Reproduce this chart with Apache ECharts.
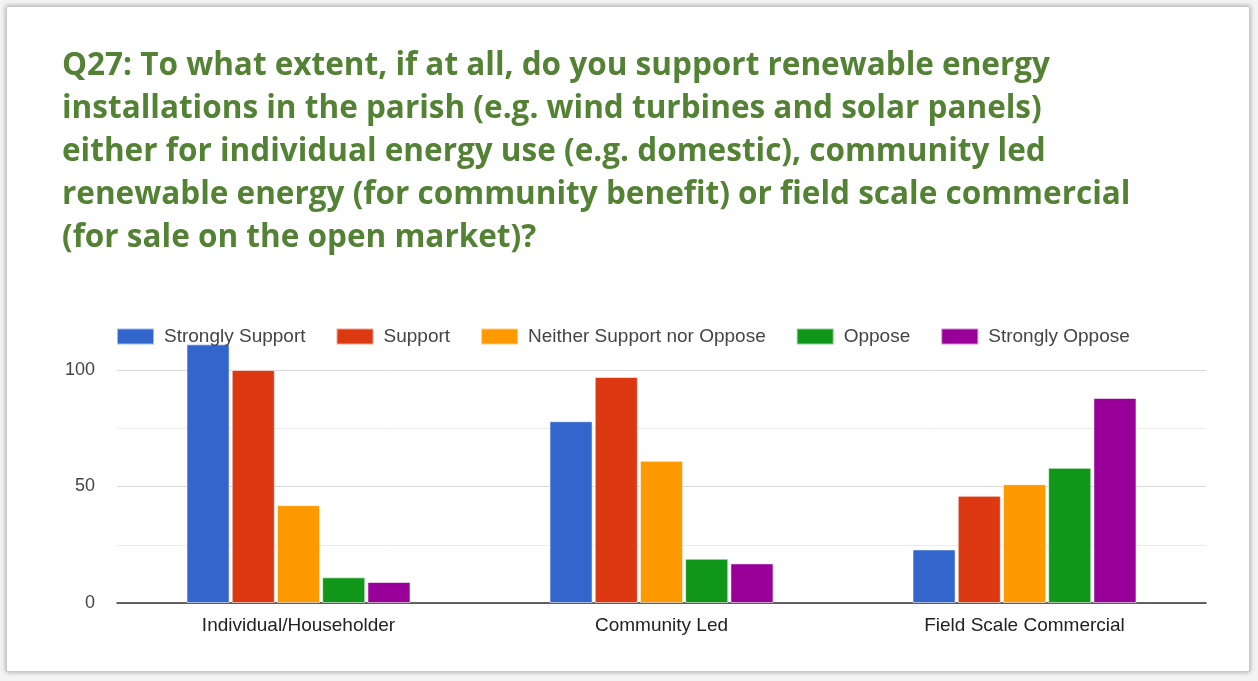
<!DOCTYPE html>
<html>
<head>
<meta charset="utf-8">
<script src="https://cdn.jsdelivr.net/npm/echarts@6/dist/echarts.min.js"></script>
<style>
  html, body { margin: 0; padding: 0; background: #f4f4f4; }
  #card {
    position: absolute; left: 6px; top: 6px; width: 1242px; height: 664px;
    background: #fff; border: 1px solid #c8c8c8;
    box-shadow: 0 0 5px rgba(0,0,0,0.35);
  }
  #chart { position: absolute; left: 0; top: 0; width: 1258px; height: 681px; }
</style>
</head>
<body>
<div id="card"></div>
<div id="chart"></div>
<script>
// Survey responses per type of installation
const categories = ['Individual/Householder', 'Community Led', 'Field Scale Commercial'];
const seriesNames = ['Strongly Support', 'Support', 'Neither Support nor Oppose', 'Oppose', 'Strongly Oppose'];
const stronglySupport = [111, 78, 23];
const support = [100, 97, 46];
const neither = [42, 61, 51];
const oppose = [11, 19, 58];
const stronglyOppose = [9, 17, 88];
const yTicks = [0, 50, 100];

const seriesValues = [stronglySupport, support, neither, oppose, stronglyOppose];
const colors = ['#3366cc', '#dc3912', '#ff9900', '#109618', '#990099'];

const titleText = 'Q27: To what extent, if at all, do you support renewable energy\n' +
  'installations in the parish (e.g. wind turbines and solar panels)\n' +
  'either for individual energy use (e.g. domestic), community led\n' +
  'renewable energy (for community benefit) or field scale commercial\n' +
  '(for sale on the open market)?';

const labelFont = 'Liberation Sans, Arial, sans-serif';

const chart = echarts.init(document.getElementById('chart'), null, { renderer: 'canvas' });
chart.setOption({
  backgroundColor: 'transparent',
  animation: false,
  color: colors,
  title: {
    text: titleText,
    left: 62,
    top: 45,
    padding: 0,
    textStyle: {
      fontFamily: 'Open Sans',
      fontWeight: 'bold',
      fontSize: 31.5,
      lineHeight: 43,
      color: '#548235'
    }
  },
  legend: {
    top: 327,
    left: 116,
    padding: 0,
    itemWidth: 37,
    itemHeight: 16,
    itemGap: 30,
    icon: 'rect',
    textStyle: {
      fontFamily: labelFont,
      fontSize: 19,
      color: '#444',
      padding: [0, 0, 0, 5]
    },
    data: seriesNames
  },
  grid: { left: 117, right: 52, top: 370, bottom: 78 },
  xAxis: {
    type: 'category',
    data: categories,
    axisTick: { show: false },
    axisLine: { lineStyle: { color: '#333', width: 1.5 } },
    axisLabel: {
      margin: 13,
      fontFamily: labelFont,
      fontSize: 19,
      color: '#222'
    }
  },
  yAxis: {
    type: 'value',
    min: 0,
    max: 100,
    interval: 50,
    axisLine: { show: false },
    axisTick: { show: false },
    axisLabel: {
      margin: 22,
      fontFamily: labelFont,
      fontSize: 18,
      color: '#444',
      formatter: v => (yTicks.indexOf(v) >= 0 ? String(v) : '')
    },
    splitLine: { lineStyle: { color: '#d9d9d9', width: 1 } },
    minorTick: { show: false, splitNumber: 2 },
    minorSplitLine: { show: true, lineStyle: { color: '#ebebeb', width: 1 } }
  },
  series: seriesNames.map((name, i) => ({
    name: name,
    type: 'bar',
    data: seriesValues[i],
    clip: false,
    barGap: '5%',
    barCategoryGap: '38.3%',
    itemStyle: { borderColor: 'rgba(255,255,255,0.55)', borderWidth: 1 }
  }))
});
</script>
</body>
</html>
